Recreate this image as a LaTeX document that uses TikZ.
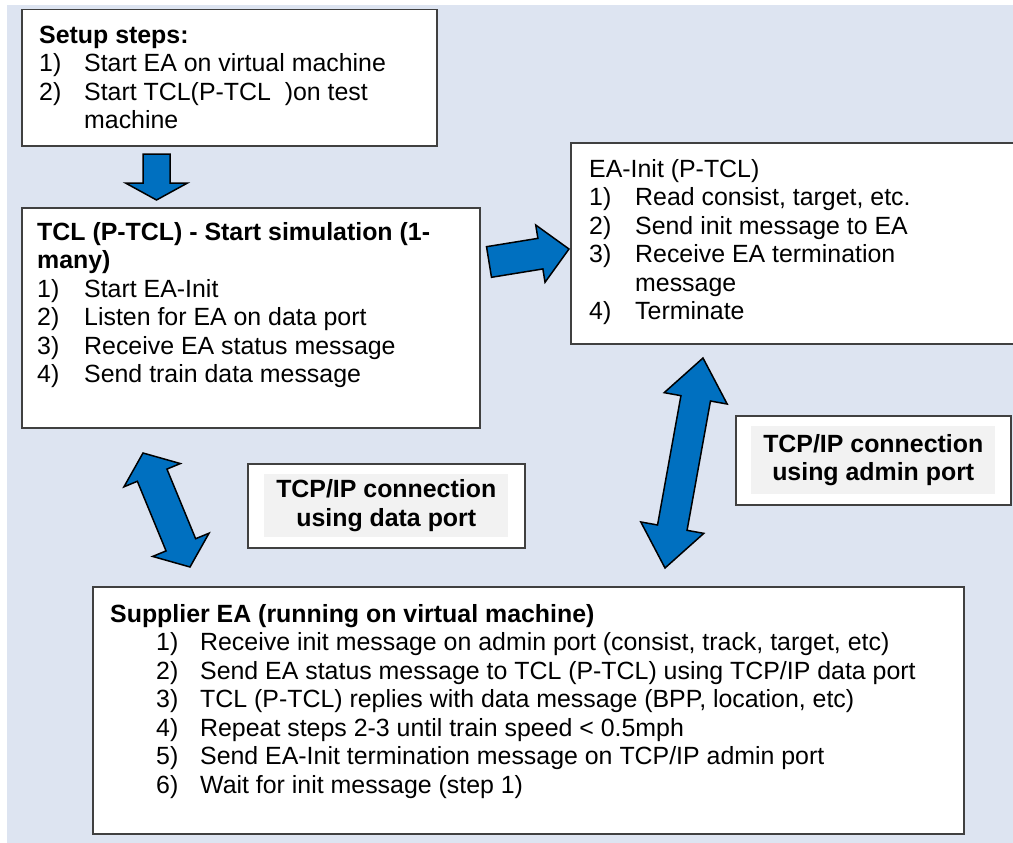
\documentclass[tikz,border=0pt]{standalone}
\usepackage{fontspec}
\setmainfont{Liberation Sans}
\usepackage{array}
\usetikzlibrary{calc}

\definecolor{bgblue}{HTML}{DDE4F1}
\definecolor{boxgray}{HTML}{404040}
\definecolor{arrowblue}{HTML}{0070C0}
\definecolor{labelgray}{HTML}{F2F2F2}

\newcommand\bodyfont{\fontsize{24.9}{28.5}\selectfont}

% block arrow with one head: tail centre, tip, half shaft, half head, head length
\newcommand\singleblock[5]{%
  \draw[barrow] ($(#1)!#3!90:(#2)$)
    -- ($(#2)!#5!(#1)!#3!-90:(#1)$)
    -- ($(#2)!#5!(#1)!#4!-90:(#1)$)
    -- (#2)
    -- ($(#2)!#5!(#1)!#4!90:(#1)$)
    -- ($(#2)!#5!(#1)!#3!90:(#1)$)
    -- ($(#1)!#3!-90:(#2)$) -- cycle;}

% block arrow with two heads: tip, tip, half shaft, half head, head length
\newcommand\doubleblock[5]{%
  \draw[barrow] (#1)
    -- ($(#1)!#5!(#2)!#4!90:(#2)$)
    -- ($(#1)!#5!(#2)!#3!90:(#2)$)
    -- ($(#2)!#5!(#1)!#3!-90:(#1)$)
    -- ($(#2)!#5!(#1)!#4!-90:(#1)$)
    -- (#2)
    -- ($(#2)!#5!(#1)!#4!90:(#1)$)
    -- ($(#2)!#5!(#1)!#3!90:(#1)$)
    -- ($(#1)!#5!(#2)!#3!-90:(#2)$)
    -- ($(#1)!#5!(#2)!#4!-90:(#2)$) -- cycle;}

\tikzset{
  box/.style={draw=boxgray, line width=1.5pt, fill=white, anchor=north west,
    inner sep=0pt},
  txt/.style={anchor=north west, inner sep=0pt, align=left, font=\bodyfont},
  lbltxt/.style={fill=labelgray, inner sep=0pt, align=center,
    font=\bodyfont\bfseries},
  barrow/.style={draw=black, line width=1.5pt, fill=arrowblue, line join=miter},
}

\begin{document}
\begin{tikzpicture}[x=1pt,y=-1pt]
\useasboundingbox (0,0) rectangle (1013,843);
\fill[bgblue] (7,5) rectangle (1013,843);

% boxes
\node[box, minimum width=415pt, minimum height=136pt] (setup) at (21,9) {};
\node[box, minimum width=458pt, minimum height=220pt] (tcl) at (21,207) {};
\node[box, minimum width=460pt, minimum height=201pt] (init) at (570,142) {};
\node[box, minimum width=871pt, minimum height=247pt] (supplier) at (92,586) {};
\node[box, minimum width=277pt, minimum height=84pt] (databox) at (247,463) {};
\node[box, minimum width=275pt, minimum height=89pt] (adminbox) at (735,415) {};

% box texts
\node[txt] (setuptxt) at ($(setup.north west)+(18,14)$) {%
  \begin{tabular}{@{}p{45pt}@{}l@{}}
  \multicolumn{2}{@{}l@{}}{\bfseries Setup steps:}\\
  1) & Start EA on virtual machine\\
  2) & Start TCL(P-TCL\ \ )on test\\
     & machine
  \end{tabular}};

\node[txt] (tcltxt) at ($(tcl.north west)+(16,13)$) {%
  \begin{tabular}{@{}p{47pt}@{}l@{}}
  \multicolumn{2}{@{}l@{}}{\bfseries TCL (P-TCL) - Start simulation (1-}\\
  \multicolumn{2}{@{}l@{}}{\bfseries many)}\\
  1) & Start EA-Init\\
  2) & Listen for EA on data port\\
  3) & Receive EA status message\\
  4) & Send train data message
  \end{tabular}};

\node[txt] (inittxt) at ($(init.north west)+(19,15)$) {%
  \begin{tabular}{@{}p{46pt}@{}l@{}}
  \multicolumn{2}{@{}l@{}}{EA-Init (P-TCL)}\\
  1) & Read consist, target, etc.\\
  2) & Send init message to EA\\
  3) & Receive EA termination\\
     & message\\
  4) & Terminate
  \end{tabular}};

\node[txt] (suppliertxt) at ($(supplier.north west)+(18,16)$) {%
  \begin{tabular}{@{\hspace{46pt}}p{44pt}@{}l@{}}
  \multicolumn{2}{@{}l@{}}{\bfseries Supplier EA (running on virtual machine)}\\
  1) & Receive init message on admin port (consist, track, target, etc)\\
  2) & Send EA status message to TCL (P-TCL) using TCP/IP data port\\
  3) & TCL (P-TCL) replies with data message (BPP, location, etc)\\
  4) & Repeat steps 2-3 until train speed < 0.5mph\\
  5) & Send EA-Init termination message on TCP/IP admin port\\
  6) & Wait for init message (step 1)
  \end{tabular}};

% connection labels
\node[lbltxt, minimum width=244pt, minimum height=63pt] (datalbl)
  at (databox.center) {TCP/IP connection\\using data port};
\node[lbltxt, minimum width=244pt, minimum height=68pt] (adminlbl)
  at (adminbox.center) {TCP/IP connection\\using admin port};

% arrow end points
\coordinate (setupout) at (156.5,154);
\coordinate (tclin) at (156.5,200);
\coordinate (tclout) at (489,262);
\coordinate (initin) at (569,249);
\coordinate (tcldata) at (143,453);
\coordinate (supdata) at (190,567);
\coordinate (initadmin) at (703,358);
\coordinate (supadmin) at (665,568);

% block arrows
\singleblock{setupout}{tclin}{13.5pt}{31pt}{17pt}
\singleblock{tclout}{initin}{15.5pt}{29pt}{29pt}
\doubleblock{tcldata}{supdata}{16pt}{30.5pt}{24pt}
\doubleblock{initadmin}{supadmin}{15pt}{32pt}{41pt}
\end{tikzpicture}
\end{document}
